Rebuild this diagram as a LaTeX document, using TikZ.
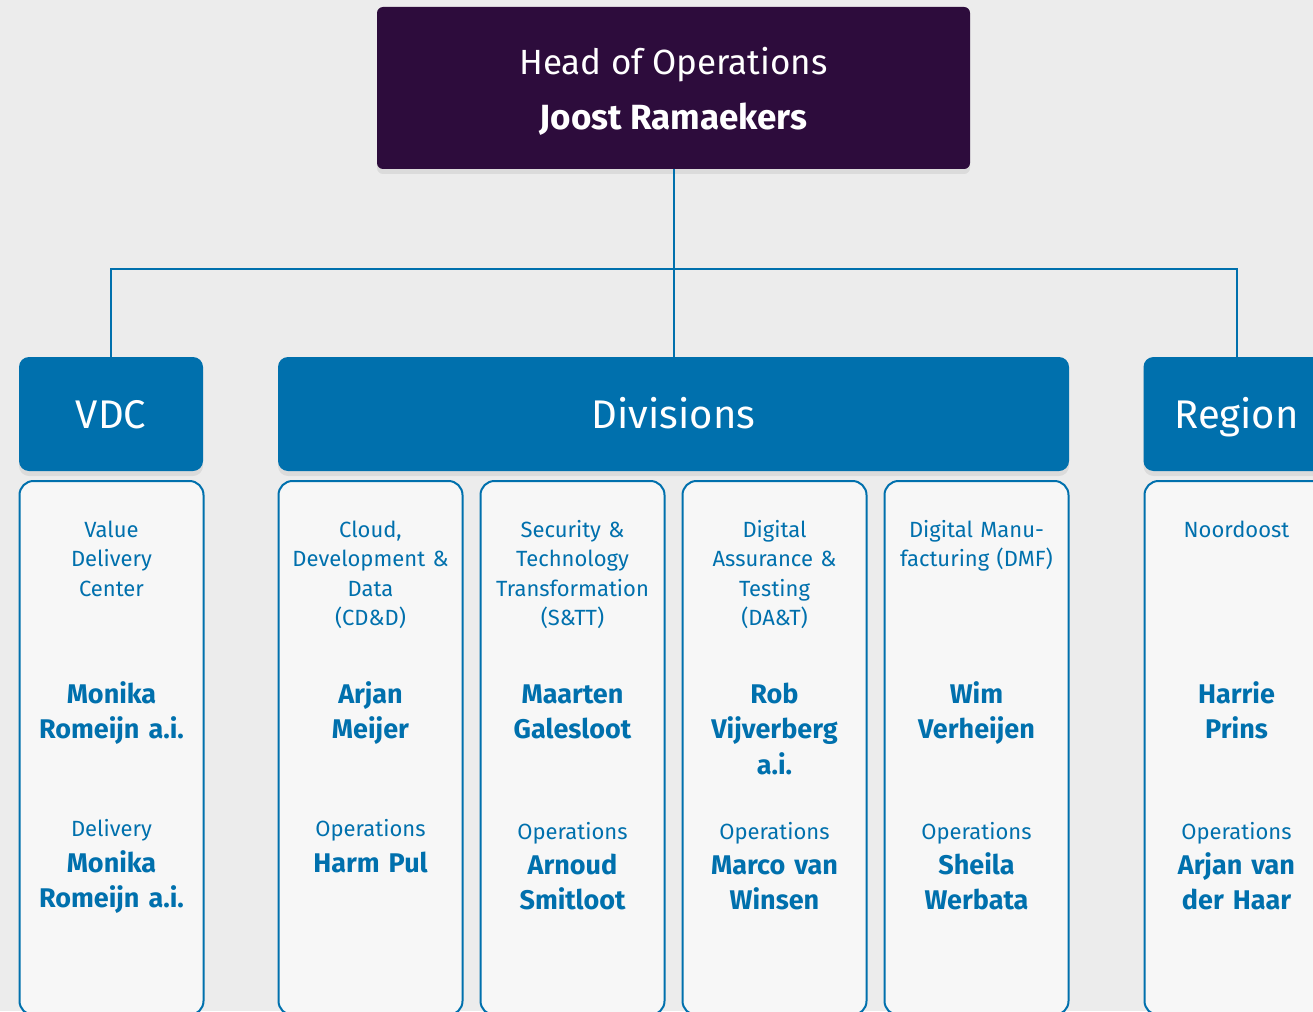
\documentclass[tikz,border=0pt]{standalone}
\usepackage{fontspec}
\setmainfont{Fira Sans}
\usetikzlibrary{positioning,shadows}

\definecolor{opsblue}{HTML}{0070AD}
\definecolor{opspurple}{HTML}{2D0C3C}
\definecolor{cardfill}{HTML}{F7F7F7}
\definecolor{pagegray}{HTML}{ECECEC}

\tikzset{
  softshadow/.style={drop shadow={shadow xshift=0pt,shadow yshift=-5pt,opacity=0.07,fill=black}},
  headbox/.style={fill=opspurple,rounded corners=6pt,minimum width=593pt,minimum height=162pt,softshadow},
  groupbox/.style={fill=opsblue,rounded corners=10pt,text=white,minimum height=114pt,
    font=\fontsize{40}{48}\selectfont,text height=28pt,text depth=0pt,softshadow},
  card/.style={draw=opsblue,line width=2pt,fill=cardfill,rounded corners=14pt,
    minimum width=184pt,minimum height=534pt,inner sep=0pt},
  unit/.style={anchor=base,text width=182pt,align=center,inner sep=0pt,text=opsblue,
    font=\fontsize{22}{29.5}\selectfont},
  lead/.style={unit,font=\bfseries\fontsize{27}{35.5}\selectfont},
  link/.style={draw=opsblue,line width=2pt},
}

\begin{document}
\begin{tikzpicture}[x=1pt,y=-1pt]
\useasboundingbox (0,0) rectangle (1313,1011);
\clip (0,0) rectangle (1313,1011);
\fill[pagegray] (0,0) rectangle (1313,1011);
%
\node[headbox] (head) at (673.5,88) {};
\node[anchor=base,text=white,font=\fontsize{35}{42}\selectfont] (headtitle) at (673.5,75) {Head of Operations};
\node[anchor=base,text=white,font=\bfseries\fontsize{35}{42}\selectfont] (headname) at (673.5,130) {Joost Ramaekers};
%
\coordinate (junction) at (673.5,269);
\draw[link] (head) -- (junction);
%
\node[groupbox,minimum width=184pt] (vdc) at (111,414) {VDC};
\node[groupbox,minimum width=791pt] (divisions) at (673.5,414) {Divisions};
\node[groupbox,minimum width=186pt] (region) at (1236.5,414) {Region};
%
\draw[link] (junction) -| (vdc);
\draw[link] (junction) -- (divisions);
\draw[link] (junction) -| (region);
%
\node[card] (vdccard) at (111.5,748) {};
\node[card] (cloudcard) at (370.5,748) {};
\node[card] (securitycard) at (572.5,748) {};
\node[card] (assurancecard) at (774.5,748) {};
\node[card] (dmfcard) at (976.5,748) {};
\node[card] (regioncard) at (1236.5,748) {};
%
\node[unit] (vdcunit) at (111.5,537) {Value\\Delivery\\Center};
\node[lead] (vdclead) at (111.5,703) {Monika\\Romeijn a.i.};
\node[unit] (vdcrole) at (111.5,836) {Delivery};
\node[lead] (vdcdeputy) at (111.5,872) {Monika\\Romeijn a.i.};
%
\node[unit] (cloudunit) at (370.5,537) {Cloud,\\Development \&\\Data\\(CD\&D)};
\node[lead] (cloudlead) at (370.5,703) {Arjan\\Meijer};
\node[unit] (cloudrole) at (370.5,836) {Operations};
\node[lead] (clouddeputy) at (370.5,872) {Harm Pul};
%
\node[unit] (securityunit) at (572.5,537) {Security \&\\Technology\\Transformation\\(S\&TT)};
\node[lead] (securitylead) at (572.5,703) {Maarten\\Galesloot};
\node[unit] (securityrole) at (572.5,839) {Operations};
\node[lead] (securitydeputy) at (572.5,874) {Arnoud\\Smitloot};
%
\node[unit] (assuranceunit) at (774.5,537) {Digital\\Assurance \&\\Testing\\(DA\&T)};
\node[lead] (assurancelead) at (774.5,703) {Rob\\Vijverberg\\a.i.};
\node[unit] (assurancerole) at (774.5,839) {Operations};
\node[lead] (assurancedeputy) at (774.5,874) {Marco van\\Winsen};
%
\node[unit] (dmfunit) at (976.5,537) {Digital Manu-\\facturing (DMF)};
\node[lead] (dmflead) at (976.5,703) {Wim\\Verheijen};
\node[unit] (dmfrole) at (976.5,839) {Operations};
\node[lead] (dmfdeputy) at (976.5,874) {Sheila\\Werbata};
%
\node[unit] (regionunit) at (1236.5,537) {Noordoost};
\node[lead] (regionlead) at (1236.5,703) {Harrie\\Prins};
\node[unit] (regionrole) at (1236.5,839) {Operations};
\node[lead] (regiondeputy) at (1236.5,874) {Arjan van\\der Haar};
%
\end{tikzpicture}
\end{document}
